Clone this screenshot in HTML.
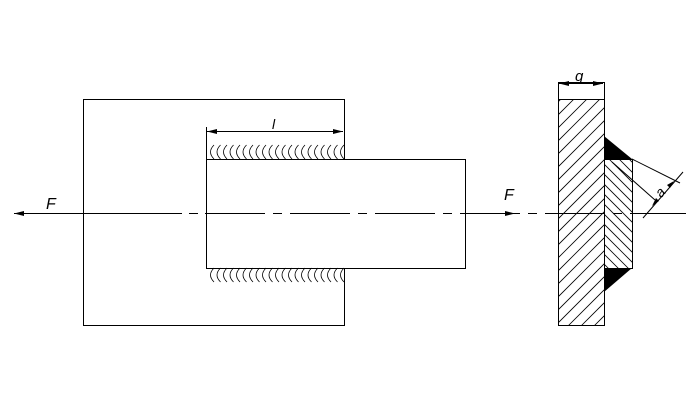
<!DOCTYPE html>
<html><head><style>body{margin:0;background:#fff}svg{display:block}</style></head>
<body>
<svg width="693" height="409" viewBox="0 0 693 409" xmlns="http://www.w3.org/2000/svg" font-family="Liberation Sans, sans-serif">
<defs>
<clipPath id="cp1"><rect x="558" y="99" width="46" height="227"/></clipPath>
<clipPath id="cp2"><rect x="604" y="159" width="28" height="109"/></clipPath>
<g id="bead" fill="none" stroke="#000" stroke-width="0.8">
<path d="M7,0 Q0,7 7,14"/>
</g>
</defs>
<g stroke="#000" fill="none" stroke-width="1">
<path d="M344.5,159 L344.5,99.5 L83.5,99.5 L83.5,325.5 L344.5,325.5 L344.5,268"/>
<rect x="206.5" y="159.5" width="259" height="109"/>
<line x1="206.5" y1="127" x2="206.5" y2="159"/>
<line x1="207" y1="131.5" x2="343" y2="131.5"/>
<line x1="14" y1="213.5" x2="686" y2="213.5" stroke-dasharray="168 7 9 7 60 8 9 8 60 8 9 8 60 8 9 8 60 8 9 8 60 8 9 8 60 8 9 8 60 8 9 8 60 8 9 8 60 8"/>
<rect x="558.5" y="82.5" width="46" height="243"/>
<line x1="558" y1="99.5" x2="604" y2="99.5"/>
<line x1="559" y1="83.5" x2="603" y2="83.5"/>
<g clip-path="url(#cp1)" stroke-width="0.8">
<path d="M530,130 L650,10 M530,143 L650,23 M530,156 L650,36 M530,169 L650,49 M530,182 L650,62 M530,195 L650,75 M530,208 L650,88 M530,221 L650,101 M530,234 L650,114 M530,247 L650,127 M530,260 L650,140 M530,273 L650,153 M530,286 L650,166 M530,299 L650,179 M530,312 L650,192 M530,325 L650,205 M530,338 L650,218 M530,351 L650,231 M530,364 L650,244 M530,377 L650,257 M530,390 L650,270 M530,403 L650,283"/>
</g>
<rect x="604.5" y="159.5" width="28" height="109"/>
<g clip-path="url(#cp2)" stroke-width="0.8">
<path d="M600,130 L660,190 M600,140 L660,200 M600,150 L660,210 M600,160 L660,220 M600,170 L660,230 M600,180 L660,240 M600,190 L660,250 M600,200 L660,260 M600,210 L660,270 M600,220 L660,280 M600,230 L660,290 M600,240 L660,300 M600,250 L660,310 M600,260 L660,320"/>
</g>
<line x1="632" y1="159" x2="680" y2="183"/>
<line x1="612" y1="162" x2="655" y2="200"/>
<line x1="643" y1="218" x2="683" y2="172"/>
</g>
<polygon points="604,136 604,159 632,159" fill="#000"/>
<polygon points="604,268 632,268 604,292" fill="#000"/>
<g fill="#000">
<polygon points="14,213.5 24,211 24,216"/>
<polygon points="515,213.5 505,211 505,216"/>
<polygon points="207,131.5 217,129 217,134"/>
<polygon points="343,131.5 333,129 333,134"/>
<polygon points="559,83.5 569,81 569,86"/>
<polygon points="603,83.5 593,81 593,86"/>
<polygon points="652,206 656,198 659,201"/>
<polygon points="674,181 667,185 670,188"/>
</g>
<g transform="translate(207,145)">
<use href="#bead" x="0"/><use href="#bead" x="6.5"/><use href="#bead" x="13"/><use href="#bead" x="19.5"/><use href="#bead" x="26"/><use href="#bead" x="32.5"/><use href="#bead" x="39"/><use href="#bead" x="45.5"/><use href="#bead" x="52"/><use href="#bead" x="58.5"/><use href="#bead" x="65"/><use href="#bead" x="71.5"/><use href="#bead" x="78"/><use href="#bead" x="84.5"/><use href="#bead" x="91"/><use href="#bead" x="97.5"/><use href="#bead" x="104"/><use href="#bead" x="110.5"/><use href="#bead" x="117"/><use href="#bead" x="123.5"/><use href="#bead" x="130"/>
</g>
<g transform="translate(207,268)">
<use href="#bead" x="0"/><use href="#bead" x="6.5"/><use href="#bead" x="13"/><use href="#bead" x="19.5"/><use href="#bead" x="26"/><use href="#bead" x="32.5"/><use href="#bead" x="39"/><use href="#bead" x="45.5"/><use href="#bead" x="52"/><use href="#bead" x="58.5"/><use href="#bead" x="65"/><use href="#bead" x="71.5"/><use href="#bead" x="78"/><use href="#bead" x="84.5"/><use href="#bead" x="91"/><use href="#bead" x="97.5"/><use href="#bead" x="104"/><use href="#bead" x="110.5"/><use href="#bead" x="117"/><use href="#bead" x="123.5"/><use href="#bead" x="130"/>
</g>
<text x="46" y="209" font-size="16" font-style="italic">F</text>
<text x="504" y="200" font-size="16" font-style="italic">F</text>
<text x="272" y="129" font-size="14" font-style="italic">l</text>
<text x="575" y="81" font-size="15" font-style="italic">g</text>
<text x="656" y="197" font-size="14" font-style="italic" transform="rotate(-50 660 192)">a</text>
</svg>
</body></html>
